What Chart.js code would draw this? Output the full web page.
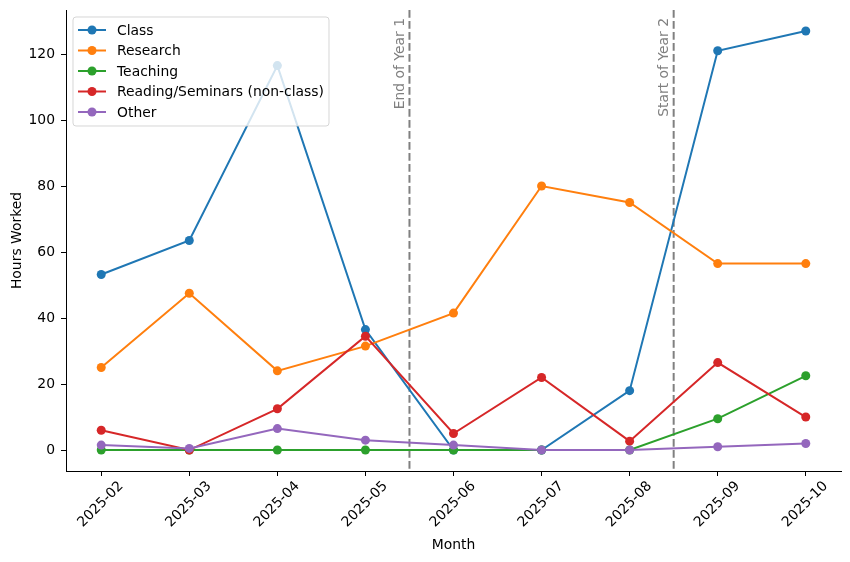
<!DOCTYPE html>
<html>
<head>
<meta charset="utf-8">
<script src="https://cdn.jsdelivr.net/npm/chart.js@4/dist/chart.umd.min.js"></script>
<style>
  html, body { margin: 0; padding: 0; background: #fff; }
  #wrap { width: 850px; height: 562px; }
</style>
</head>
<body>
<div id="wrap"><canvas id="chart"></canvas></div>
<script>
const months = ['2025-02', '2025-03', '2025-04', '2025-05', '2025-06', '2025-07', '2025-08', '2025-09', '2025-10'];

const classHours = [53.2, 63.5, 116.5, 36.5, 0, 0, 18, 121, 127];
const researchHours = [25, 47.5, 24, 31.5, 41.5, 80, 75, 56.5, 56.5];
const teachingHours = [0, 0, 0, 0, 0, 0, 0, 9.5, 22.5];
const readingHours = [6, 0, 12.5, 34.5, 5, 22, 2.7, 26.5, 10];
const otherHours = [1.5, 0.5, 6.5, 3, 1.5, 0, 0, 1, 2];

const seriesNames = ['Class', 'Research', 'Teaching', 'Reading/Seminars (non-class)', 'Other'];
const seriesColors = ['#1f77b4', '#ff7f0e', '#2ca02c', '#d62728', '#9467bd'];
const seriesValues = [classHours, researchHours, teachingHours, readingHours, otherHours];

// month positions between ticks, e.g. 3.5 = between 2025-05 and 2025-06
const markerPositions = [3.5, 6.5];
const markerLabels = ['End of Year 1', 'Start of Year 2'];

const yTicks = [0, 20, 40, 60, 80, 100, 120];

const FONT = 'DejaVu Sans';

const datasets = seriesValues.map((vals, i) => ({
  label: seriesNames[i],
  data: vals.map((v, j) => ({ x: j, y: v })),
  borderColor: seriesColors[i],
  backgroundColor: seriesColors[i],
  borderWidth: 2,
  pointRadius: 4.5,
  pointHoverRadius: 4.5,
  pointBorderWidth: 0,
  tension: 0,
  order: seriesValues.length - i,
}));

const vlinesPlugin = {
  id: 'vlines',
  beforeDatasetsDraw(chart) {
    const { ctx, chartArea, scales } = chart;
    ctx.save();
    markerPositions.forEach((pos, i) => {
      const x = scales.x.getPixelForValue(pos);
      ctx.strokeStyle = '#808080';
      ctx.lineWidth = 2;
      ctx.setLineDash([7.7, 3.3]);
      ctx.beginPath();
      ctx.moveTo(x, chartArea.top);
      ctx.lineTo(x, chartArea.bottom);
      ctx.stroke();

      ctx.save();
      ctx.translate(x - 9, chartArea.top + 8);
      ctx.rotate(-Math.PI / 2);
      ctx.fillStyle = '#808080';
      ctx.font = '13.9px ' + FONT;
      ctx.textAlign = 'right';
      ctx.textBaseline = 'middle';
      ctx.fillText(markerLabels[i], 0, 0);
      ctx.restore();
    });
    ctx.restore();
  }
};

const legendPlugin = {
  id: 'boxLegend',
  afterDatasetsDraw(chart) {
    const { ctx, chartArea } = chart;
    const x0 = chartArea.left + 7, y0 = chartArea.top + 7;
    const w = 256, h = 109, r = 3;
    ctx.save();
    ctx.setLineDash([]);
    ctx.beginPath();
    ctx.roundRect(x0, y0, w, h, r);
    ctx.fillStyle = 'rgba(255,255,255,0.8)';
    ctx.fill();
    ctx.strokeStyle = 'rgba(204,204,204,0.8)';
    ctx.lineWidth = 1;
    ctx.stroke();

    ctx.font = '13.9px ' + FONT;
    ctx.textBaseline = 'middle';
    ctx.textAlign = 'left';
    seriesNames.forEach((name, i) => {
      const y = y0 + 13 + i * 20.5;
      ctx.strokeStyle = seriesColors[i];
      ctx.lineWidth = 2;
      ctx.beginPath();
      ctx.moveTo(x0 + 5, y);
      ctx.lineTo(x0 + 33, y);
      ctx.stroke();
      ctx.fillStyle = seriesColors[i];
      ctx.beginPath();
      ctx.arc(x0 + 19, y, 4.5, 0, Math.PI * 2);
      ctx.fill();
      ctx.fillStyle = '#000';
      ctx.fillText(name, x0 + 44, y + 1);
    });
    ctx.restore();
  }
};

new Chart(document.getElementById('chart'), {
  type: 'line',
  data: { datasets },
  options: {
    responsive: true,
    maintainAspectRatio: false,
    animation: false,
    events: [],
    layout: { padding: { left: 0, top: 10, right: 9, bottom: 0 } },
    plugins: {
      legend: { display: false },
      tooltip: { enabled: false },
    },
    scales: {
      x: {
        type: 'linear',
        min: -0.4,
        max: 8.4,
        afterBuildTicks(scale) {
          scale.ticks = months.map((_, i) => ({ value: i }));
        },
        afterFit(scale) {
          scale.height = 91;
          scale.paddingLeft = 0;
          scale.paddingRight = 0;
        },
        ticks: {
          autoSkip: false,
          maxRotation: 45,
          minRotation: 45,
          labelOffset: 20,
          padding: 2,
          color: '#000',
          font: { family: FONT, size: 13.9 },
          callback: (v) => months[v],
        },
        grid: {
          drawOnChartArea: false,
          drawTicks: true,
          tickLength: 5,
          tickWidth: 1,
          tickColor: '#000',
        },
        border: { display: true, color: '#000', width: 1 },
        title: {
          display: true,
          text: 'Month',
          color: '#000',
          font: { family: FONT, size: 13.9 },
          padding: { top: 0, bottom: 8 },
        },
      },
      y: {
        type: 'linear',
        min: -6.35,
        max: 133.35,
        afterBuildTicks(scale) {
          scale.ticks = yTicks.map(v => ({ value: v }));
        },
        afterFit(scale) {
          scale.width = 66;
          scale.paddingTop = 0;
          scale.paddingBottom = 0;
        },
        ticks: {
          padding: 6,
          color: '#000',
          font: { family: FONT, size: 13.9 },
        },
        grid: {
          drawOnChartArea: false,
          drawTicks: true,
          tickLength: 5,
          tickWidth: 1,
          tickColor: '#000',
        },
        border: { display: true, color: '#000', width: 1 },
        title: {
          display: true,
          text: 'Hours Worked',
          color: '#000',
          font: { family: FONT, size: 13.9 },
          padding: { top: 9, bottom: 0 },
        },
      },
    },
  },
  plugins: [vlinesPlugin, legendPlugin],
});
</script>
</body>
</html>
